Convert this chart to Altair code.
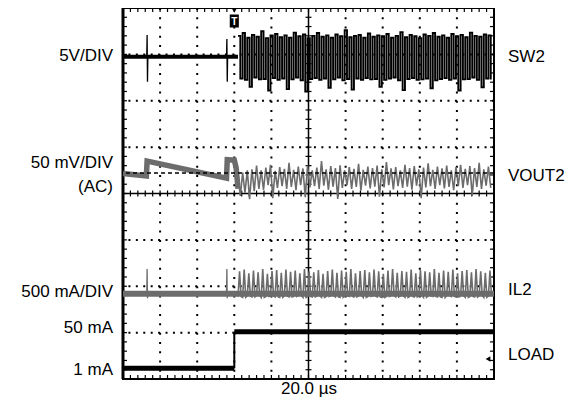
import altair as alt
import pandas as pd

# ---------------- values read from the screen ----------------
# x: time in µs (20 µs/div, 10 div); y: screen divisions (0 = bottom, 8 = top)
TRIGGER_US = 60.0
SWITCH_START_US = 62.0
SWITCH_PERIOD_US = 2.5

# SW2 (5 V/div)
sw2_idle_t = [0.0, 62.0]
sw2_idle_v = [6.95, 6.95]
sw2_pulse_t = [12.8, 13.0, 13.2, 13.4, 55.8, 56.0, 56.2, 56.4]
sw2_pulse_v = [6.95, 7.42, 6.41, 6.95, 6.95, 7.33, 6.41, 6.95]
sw2_pulse_id = [1, 1, 1, 1, 2, 2, 2, 2]
sw2_hi = [7.40, 7.46, 7.36, 7.42, 7.38, 7.50, 7.35, 7.41, 7.44, 7.37,
          7.41, 7.36, 7.47, 7.39, 7.43, 7.35, 7.40, 7.46, 7.38, 7.41,
          7.36, 7.43, 7.39, 7.52, 7.37, 7.40, 7.42, 7.36, 7.45, 7.38,
          7.41, 7.39, 7.44, 7.36, 7.40, 7.48, 7.37, 7.42, 7.39, 7.35,
          7.43, 7.40, 7.46, 7.38, 7.41, 7.36, 7.44, 7.39, 7.42, 7.37,
          7.47, 7.40, 7.38, 7.43, 7.41]
sw2_lo = [6.48, 6.45, 6.30, 6.50, 6.46, 6.47, 6.22, 6.49, 6.45, 6.48,
          6.25, 6.46, 6.50, 6.44, 6.20, 6.47, 6.49, 6.45, 6.48, 6.28,
          6.46, 6.50, 6.44, 6.47, 6.24, 6.48, 6.45, 6.49, 6.46, 6.47,
          6.30, 6.45, 6.48, 6.50, 6.44, 6.23, 6.47, 6.49, 6.45, 6.46,
          6.48, 6.27, 6.44, 6.47, 6.49, 6.45, 6.48, 6.22, 6.46, 6.47,
          6.50, 6.45, 6.29, 6.48, 6.46]

# VOUT2 (50 mV/div, AC)
vout_idle_t = [0.0, 12.6, 13.0, 55.8, 56.2, 60.0, 61.0, 62.0]
vout_idle_v = [4.43, 4.38, 4.70, 4.33, 4.73, 4.72, 4.55, 4.10]
vout_ref = 4.44
vout_hi = [4.40, 4.45, 4.50, 4.52, 4.60, 4.50, 4.56, 4.62, 4.49, 4.57,
           4.53, 4.66, 4.51, 4.58, 4.54, 4.60, 4.50, 4.56, 4.70, 4.52,
           4.59, 4.55, 4.61, 4.50, 4.57, 4.53, 4.64, 4.51, 4.58, 4.55,
           4.60, 4.52, 4.68, 4.54, 4.57, 4.50, 4.62, 4.55, 4.59, 4.52,
           4.56, 4.65, 4.51, 4.58, 4.54, 4.60, 4.50, 4.57, 4.62, 4.53,
           4.59, 4.55, 4.66, 4.52, 4.58]
vout_lo = [3.95, 4.02, 3.88, 4.05, 4.10, 4.08, 4.18, 3.90, 4.12, 4.16,
           4.10, 4.14, 4.07, 4.18, 3.92, 4.13, 4.16, 4.10, 4.17, 4.08,
           4.15, 3.88, 4.12, 4.18, 4.10, 4.14, 4.06, 4.17, 4.11, 4.15,
           3.93, 4.13, 4.18, 4.09, 4.16, 4.12, 4.15, 4.08, 4.17, 3.90,
           4.13, 4.16, 4.10, 4.18, 4.11, 4.14, 4.07, 4.16, 4.12, 4.18,
           3.95, 4.14, 4.10, 4.17, 4.12]

# IL2 (500 mA/div)
il_base_t = [0.0, 200.0]
il_base_v = [1.84, 1.84]
il_pulse_t = [12.8, 13.0, 13.2, 13.4, 55.8, 56.0, 56.2, 56.4]
il_pulse_v = [1.84, 2.37, 1.74, 1.84, 1.84, 2.37, 1.74, 1.84]
il_pulse_id = [1, 1, 1, 1, 2, 2, 2, 2]
il_hi = [2.32, 2.36, 2.28, 2.34, 2.30, 2.37, 2.27, 2.33, 2.35, 2.29,
         2.36, 2.31, 2.34, 2.28, 2.37, 2.32, 2.30, 2.35, 2.27, 2.33,
         2.36, 2.29, 2.34, 2.31, 2.37, 2.28, 2.33, 2.35, 2.30, 2.36,
         2.32, 2.27, 2.34, 2.37, 2.29, 2.33, 2.31, 2.36, 2.28, 2.35,
         2.32, 2.30, 2.37, 2.29, 2.34, 2.31, 2.36, 2.28, 2.33, 2.35,
         2.30, 2.37, 2.32, 2.29, 2.34]
il_lo = [1.78, 1.76, 1.79, 1.77, 1.80, 1.76, 1.78, 1.79, 1.77, 1.76,
         1.79, 1.77, 1.78, 1.80, 1.76, 1.78, 1.77, 1.79, 1.76, 1.78,
         1.80, 1.77, 1.76, 1.79, 1.78, 1.77, 1.80, 1.76, 1.78, 1.79,
         1.77, 1.76, 1.78, 1.80, 1.77, 1.79, 1.76, 1.78, 1.77, 1.80,
         1.76, 1.79, 1.78, 1.77, 1.76, 1.80, 1.78, 1.77, 1.79, 1.76,
         1.78, 1.77, 1.80, 1.76, 1.79]

# LOAD (1 mA -> 50 mA step at the trigger)
load_t = [0.0, 60.0, 60.0, 200.0]
load_v = [0.23, 0.23, 1.02, 1.02]
load_seg = [1, 1, 2, 2]

left_labels = ["5V/DIV", "50 mV/DIV", "(AC)", "500 mA/DIV", "50 mA", "1 mA"]
right_labels = ["SW2", "VOUT2", "IL2", "LOAD"]
time_label = "20.0 \u00b5s"

# ---------------- styling ----------------
W, H = 371, 371
GRAY = "#6c6c6c"
FONT = "Liberation Sans"
FS = 17
PX_X = W / 200.0                   # px per µs
PX_Y = H / 8.0                     # px per division

xs = alt.Scale(domain=[0, 200], nice=False, zero=False)
ys = alt.Scale(domain=[0, 8], nice=False, zero=False)


def X(f="t"):
    return alt.X(f + ":Q", scale=xs, axis=None)


def Y(f="v"):
    return alt.Y(f + ":Q", scale=ys, axis=None)


def XD(v):
    return alt.XDatum(v, scale=xs, axis=None)


def YD(v):
    return alt.YDatum(v, scale=ys, axis=None)


def sampled(start, period, per_cycle):
    """per_cycle: lists of read values, one per equal sub-interval of each switching cycle"""
    ts, vs = [], []
    k = len(per_cycle)
    for i, vals in enumerate(zip(*per_cycle)):
        for j, val in enumerate(vals):
            ts.append(start + i * period + j * period / k)
            vs.append(val)
    return pd.DataFrame({"t": ts, "v": vs})


dummy = pd.DataFrame({"t": [0.0], "v": [0.0]})

# graticule decoration (minor ticks every 1/5 division)
x_minor = pd.DataFrame({"t": [i * 4.0 for i in range(1, 50)]})
y_minor = pd.DataFrame({"v": [round(i * 0.2, 1) for i in range(1, 40)]})
x_grid = pd.DataFrame({"t": [20.0, 40.0, 60.0, 80.0, 120.0, 140.0, 160.0, 180.0]})
y_grid = pd.DataFrame({"v": [1.0, 2.0, 3.0, 5.0, 6.0, 7.0]})

layers = []
# dotted grid
layers.append(alt.Chart(x_grid).mark_rule(color="black", strokeWidth=2, strokeDash=[2, H / 40 - 2]).encode(x=X()))
layers.append(alt.Chart(y_grid).mark_rule(color="black", strokeWidth=2, strokeDash=[2, W / 50 - 2]).encode(y=Y()))

# centre cross
layers.append(alt.Chart(dummy).mark_rule(color="black", strokeWidth=1.5).encode(x=XD(100)))
layers.append(alt.Chart(dummy).mark_rule(color="black", strokeWidth=1.5).encode(y=YD(4)))

# tick marks on frame and centre lines
TW = 1.2
tx_edge = 4 / PX_X
ty_edge = 4 / PX_Y
tx_c = 3 / PX_X
ty_c = 3 / PX_Y
layers.append(alt.Chart(x_minor).mark_rule(color="black", strokeWidth=TW).encode(
    x=X(), y=YD(0), y2=alt.Y2Datum(ty_edge)))
layers.append(alt.Chart(x_minor).mark_rule(color="black", strokeWidth=TW).encode(
    x=X(), y=YD(8 - ty_edge), y2=alt.Y2Datum(8)))
layers.append(alt.Chart(x_minor).mark_rule(color="black", strokeWidth=TW).encode(
    x=X(), y=YD(4 - ty_c), y2=alt.Y2Datum(4 + ty_c)))
layers.append(alt.Chart(y_minor).mark_rule(color="black", strokeWidth=TW).encode(
    y=Y(), x=XD(0), x2=alt.X2Datum(tx_edge)))
layers.append(alt.Chart(y_minor).mark_rule(color="black", strokeWidth=TW).encode(
    y=Y(), x=XD(200 - tx_edge), x2=alt.X2Datum(200)))
layers.append(alt.Chart(y_minor).mark_rule(color="black", strokeWidth=TW).encode(
    y=Y(), x=XD(100 - tx_c), x2=alt.X2Datum(100 + tx_c)))
# heavier left edge of the screen frame
layers.append(alt.Chart(dummy).mark_rule(color="black", strokeWidth=3).encode(x=XD(0)))

# traces: VOUT2
layers.append(alt.Chart(pd.DataFrame({"t": vout_idle_t, "v": vout_idle_v})).mark_line(
    color=GRAY, strokeWidth=5.5).encode(x=X(), y=Y()))
layers.append(alt.Chart(sampled(SWITCH_START_US, SWITCH_PERIOD_US, [vout_hi, vout_lo])).mark_line(
    color=GRAY, strokeWidth=1.6).encode(x=X(), y=Y()))
layers.append(alt.Chart(dummy).mark_rule(color="black", strokeWidth=1.5, strokeDash=[4, 3]).encode(
    y=YD(vout_ref)))

# IL2
layers.append(alt.Chart(pd.DataFrame({"t": il_base_t, "v": il_base_v})).mark_line(
    color=GRAY, strokeWidth=6).encode(x=X(), y=Y()))
layers.append(alt.Chart(pd.DataFrame({"t": il_pulse_t, "v": il_pulse_v, "id": il_pulse_id})).mark_line(
    color=GRAY, strokeWidth=1.3).encode(x=X(), y=Y(), detail="id:N"))
layers.append(alt.Chart(sampled(SWITCH_START_US, SWITCH_PERIOD_US, [il_lo, il_hi, il_lo])).mark_line(
    color=GRAY, strokeWidth=1.6).encode(x=X(), y=Y()))

# SW2
layers.append(alt.Chart(pd.DataFrame({"t": sw2_idle_t, "v": sw2_idle_v})).mark_line(
    color="black", strokeWidth=4).encode(x=X(), y=Y()))
layers.append(alt.Chart(pd.DataFrame({"t": sw2_pulse_t, "v": sw2_pulse_v, "id": sw2_pulse_id})).mark_line(
    color="black", strokeWidth=1.3).encode(x=X(), y=Y(), detail="id:N"))
layers.append(alt.Chart(sampled(SWITCH_START_US, SWITCH_PERIOD_US, [sw2_hi, sw2_lo])).mark_line(
    color="black", strokeWidth=1.9, interpolate="step-after").encode(x=X(), y=Y()))

# LOAD
load_df = pd.DataFrame({"t": load_t, "v": load_v, "seg": load_seg})
layers.append(alt.Chart(load_df).mark_line(color="black", strokeWidth=5).encode(
    x=X(), y=Y(), detail="seg:N"))
layers.append(alt.Chart(pd.DataFrame({"t": [load_t[1], load_t[2]], "v": [load_v[1], load_v[2]]})).mark_line(
    color="black", strokeWidth=2).encode(x=X(), y=Y()))

# trigger marker
layers.append(alt.Chart(dummy).mark_point(shape="triangle-down", filled=True, color="black", size=40,
                                          opacity=1).encode(x=XD(TRIGGER_US), y=alt.value(2)))
layers.append(alt.Chart(dummy).mark_point(shape="M-0.7,-1L0.7,-1L0.7,1L-0.7,1Z", filled=True, color="black",
                                          size=169, opacity=1).encode(x=XD(TRIGGER_US), y=alt.value(13)))
layers.append(alt.Chart(dummy).mark_text(text="T", color="white", fontSize=10, fontWeight="bold", font=FONT,
                                         align="center", baseline="middle").encode(
    x=XD(TRIGGER_US), y=alt.value(13.5)))
# ground marker of LOAD channel
layers.append(alt.Chart(dummy).mark_point(shape="triangle-left", filled=True, color="black", size=30,
                                          opacity=1).encode(x=alt.value(365), y=alt.value(351)))

# labels
left_y = [48, 155, 179, 284, 320, 362]
for txt, yy in zip(left_labels, left_y):
    layers.append(alt.Chart(dummy).mark_text(text=txt, align="right", baseline="middle", font=FONT,
                                             fontSize=FS, color="black").encode(x=alt.value(-10), y=alt.value(yy)))
right_y = [49, 168, 282, 347]
for txt, yy in zip(right_labels, right_y):
    layers.append(alt.Chart(dummy).mark_text(text=txt, align="left", baseline="middle", font=FONT,
                                             fontSize=FS, color="black").encode(x=alt.value(385), y=alt.value(yy)))
layers.append(alt.Chart(dummy).mark_text(text=time_label, align="center", baseline="alphabetic", font=FONT,
                                         fontSize=FS, color="black").encode(x=alt.value(186), y=alt.value(386)))

chart = alt.layer(*layers).properties(
    width=W, height=H,
    autosize=alt.AutoSizeParams(type="none"),
    padding={"left": 115, "top": 0, "right": 80, "bottom": 19},
    background="white",
).configure_view(stroke="black", strokeWidth=2)

chart.save("out.html", embed_options={"renderer": "svg", "actions": False})
